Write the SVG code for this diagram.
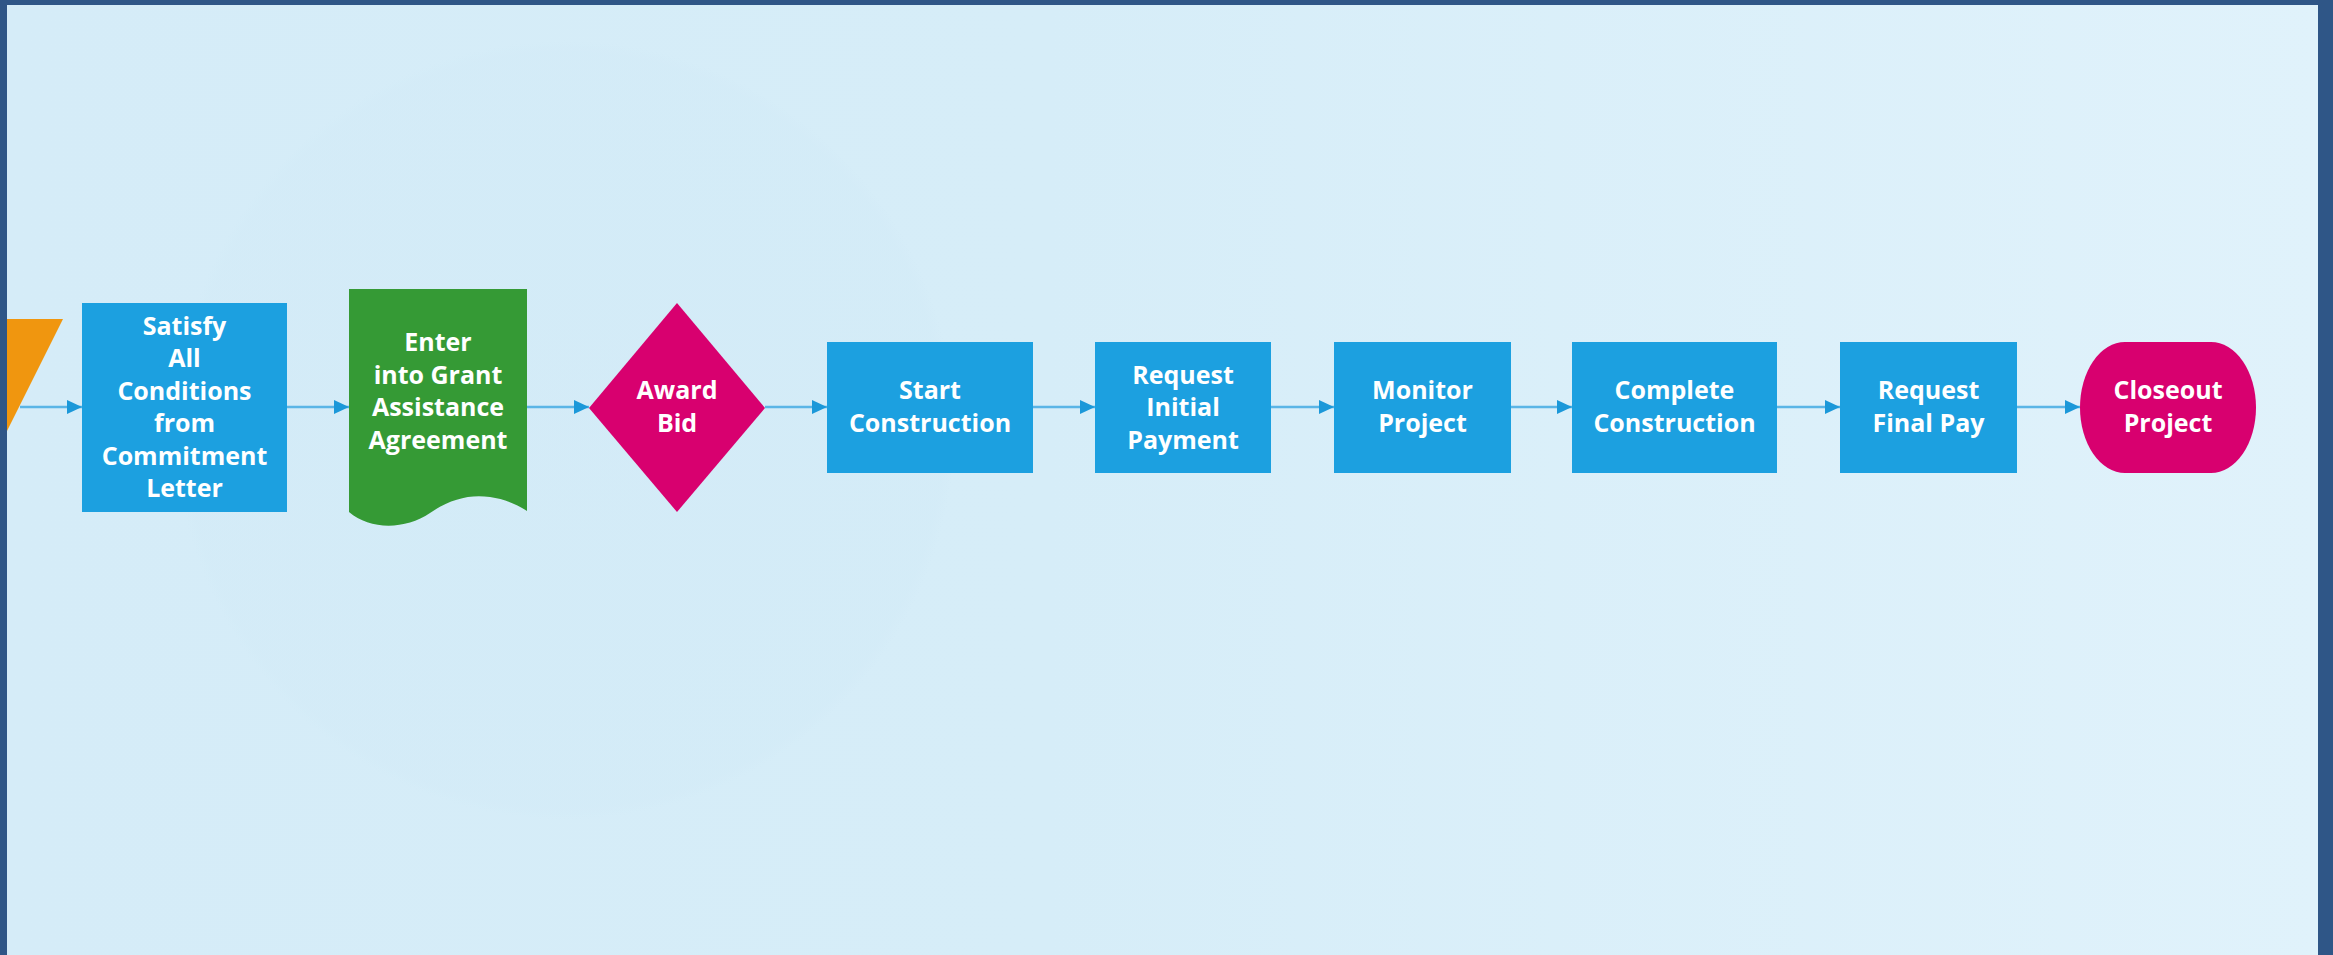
<svg xmlns="http://www.w3.org/2000/svg" width="2333" height="955" viewBox="0 0 2333 955">
<style>
.t{font-family:"Open Sans","Liberation Sans",sans-serif;font-weight:700;font-size:25px;fill:#ffffff;text-anchor:middle}
.box{fill:#1CA0E0}
.conn{stroke:#5AB5E6;stroke-width:2.3;fill:none;marker-end:url(#ah)}
</style>
<defs>
<marker id="ah" markerUnits="userSpaceOnUse" markerWidth="15" markerHeight="14" refX="15" refY="7" orient="auto">
<path d="M0,0 L15,7 L0,14 Z" fill="#1B98D9"/>
</marker>
<linearGradient id="bg" x1="0" y1="0" x2="1" y2="0">
<stop offset="0" stop-color="#D5ECF8"/>
<stop offset="0.45" stop-color="#D6EDF8"/>
<stop offset="1" stop-color="#E0F2FB"/>
</linearGradient>
<radialGradient id="circ" cx="0.5" cy="0.5" r="0.5">
<stop offset="0" stop-color="#D2EAF7"/>
<stop offset="0.97" stop-color="#D3EBF7"/>
<stop offset="1" stop-color="#D3EBF7" stop-opacity="0"/>
</radialGradient>
</defs>
<g id="background">
<rect x="0" y="0" width="2333" height="955" fill="#2F5687"/>
<rect x="7" y="5" width="2311" height="950" fill="url(#bg)"/>
<circle cx="565" cy="430" r="390" fill="url(#circ)" opacity="0.6"/>
</g>
<g id="n0">
<polygon points="-120,319 63,319 -25,495 -200,495" fill="#F0960F"/>
</g>
<rect x="0" y="0" width="7" height="955" fill="#2F5687"/>
<g id="connectors">
<line class="conn" x1="20" y1="407" x2="82" y2="407"/>
<line class="conn" x1="287" y1="407" x2="349" y2="407"/>
<line class="conn" x1="527" y1="407" x2="589" y2="407"/>
<line class="conn" x1="765" y1="407" x2="827" y2="407"/>
<line class="conn" x1="1033" y1="407" x2="1095" y2="407"/>
<line class="conn" x1="1271" y1="407" x2="1334" y2="407"/>
<line class="conn" x1="1511" y1="407" x2="1572" y2="407"/>
<line class="conn" x1="1777" y1="407" x2="1840" y2="407"/>
<line class="conn" x1="2017" y1="407" x2="2080" y2="407"/>
</g>
<g id="n1">
<rect class="box" x="82" y="303" width="205" height="209"/>
<text class="t" x="184.5" y="334.5">Satisfy</text>
<text class="t" x="184.5" y="367">All</text>
<text class="t" x="184.5" y="399.5">Conditions</text>
<text class="t" x="184.5" y="432">from</text>
<text class="t" x="184.5" y="464.5">Commitment</text>
<text class="t" x="184.5" y="497">Letter</text>
</g>
<g id="n2">
<path d="M349,289 H527 V511 C518,505 505,499 490,497 C470,494 450,499 430,513 C405,530 370,530 349,512 Z" fill="#359A35"/>
<text class="t" x="438" y="351">Enter</text>
<text class="t" x="438" y="383.5">into Grant</text>
<text class="t" x="438" y="416">Assistance</text>
<text class="t" x="438" y="448.5">Agreement</text>
</g>
<g id="n3">
<polygon points="677,303 765,408 677,512 589,408" fill="#D8006F"/>
<text class="t" x="677" y="399">Award</text>
<text class="t" x="677" y="432">Bid</text>
</g>
<g id="n4">
<rect class="box" x="827" y="342" width="206" height="131"/>
<text class="t" x="930" y="399">Start</text>
<text class="t" x="930" y="432">Construction</text>
</g>
<g id="n5">
<rect class="box" x="1095" y="342" width="176" height="131"/>
<text class="t" x="1183" y="383.5">Request</text>
<text class="t" x="1183" y="416">Initial</text>
<text class="t" x="1183" y="448.5">Payment</text>
</g>
<g id="n6">
<rect class="box" x="1334" y="342" width="177" height="131"/>
<text class="t" x="1422.5" y="399">Monitor</text>
<text class="t" x="1422.5" y="432">Project</text>
</g>
<g id="n7">
<rect class="box" x="1572" y="342" width="205" height="131"/>
<text class="t" x="1674.5" y="399">Complete</text>
<text class="t" x="1674.5" y="432">Construction</text>
</g>
<g id="n8">
<rect class="box" x="1840" y="342" width="177" height="131"/>
<text class="t" x="1928.5" y="399">Request</text>
<text class="t" x="1928.5" y="432">Final Pay</text>
</g>
<g id="n9">
<rect x="2080" y="342" width="176" height="131" rx="45" ry="65.5" fill="#D8006F"/>
<text class="t" x="2168" y="399">Closeout</text>
<text class="t" x="2168" y="432">Project</text>
</g>
</svg>
